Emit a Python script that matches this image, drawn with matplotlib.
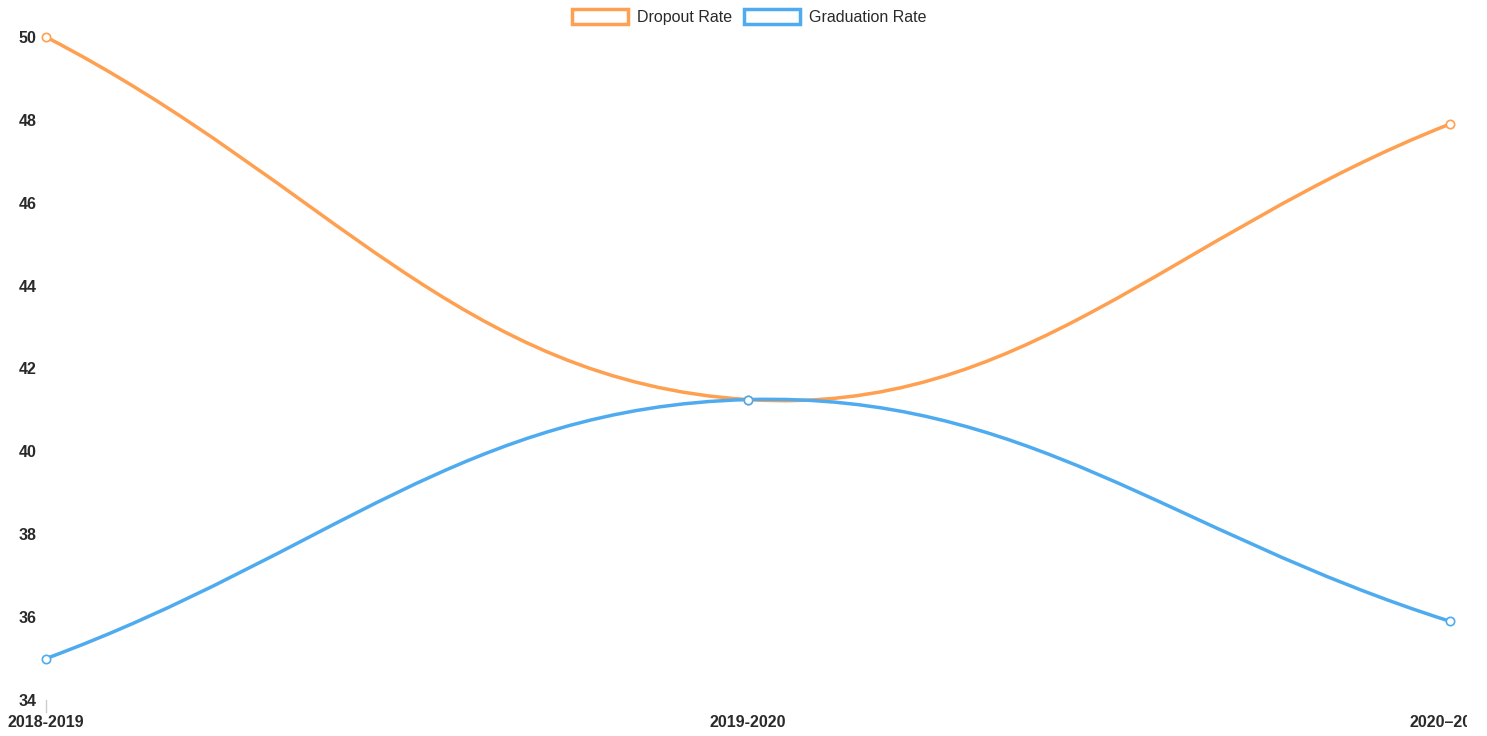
import numpy as np
import matplotlib
matplotlib.use("Agg")
import matplotlib.pyplot as plt
from matplotlib.path import Path
from matplotlib.patches import PathPatch, Patch
from matplotlib.transforms import Bbox, TransformedBbox, IdentityTransform

plt.rcParams['font.family'] = ['Liberation Sans', 'DejaVu Sans']

years = ['2018-2019', '2019-2020', '2020\u20132021']
dropout = [50, 41.25, 47.9]
graduation = [35, 41.25, 35.9]

ORANGE = '#ff9f50'
BLUE = '#4fabef'


def spline_path(ax, xs, ys, t=0.4):
    # chart.js style bezier (tension 0.4), control points worked out in pixels
    pts = ax.transData.transform(np.column_stack([xs, ys]))
    n = len(pts)
    cp_in, cp_out = [], []
    for i in range(n):
        p = pts[i]
        a = pts[i - 1] if i > 0 else p
        b = pts[i + 1] if i < n - 1 else p
        d01 = np.hypot(*(p - a))
        d12 = np.hypot(*(b - p))
        s01 = d01 / (d01 + d12)
        s12 = d12 / (d01 + d12)
        cp_in.append(p - t * s01 * (b - a))
        cp_out.append(p + t * s12 * (b - a))
    verts = [pts[0]]
    codes = [Path.MOVETO]
    for i in range(n - 1):
        verts += [cp_out[i], cp_in[i + 1], pts[i + 1]]
        codes += [Path.CURVE4] * 3
    verts = ax.transData.inverted().transform(np.array(verts))
    return Path(verts, codes)


fig = plt.figure(figsize=(14.87, 7.36), dpi=100)
W, H = 1487, 736
ax = fig.add_axes([46 / W, 36 / H, (1450 - 46) / W, (699 - 36) / H])
ax.set_xlim(0, 2)
ax.set_ylim(34, 50)

x = np.arange(len(years))
for vals, col in [(dropout, ORANGE), (graduation, BLUE)]:
    path = spline_path(ax, x, vals)
    ax.add_patch(PathPatch(path, facecolor='none', edgecolor=col, lw=2.5,
                           capstyle='round', joinstyle='round', clip_on=False))
    ax.plot(x, vals, 'o', ms=6, mfc='white', mec=col, mew=1.2, clip_on=False,
            zorder=5)

for s in ax.spines.values():
    s.set_visible(False)
ax.set_yticks(np.arange(34, 51, 2))
ax.set_xticks(x)
ax.set_xticklabels(years)
ax.tick_params(axis='y', length=0, pad=7, labelsize=11.5, labelcolor='#2a2a2a')
ax.tick_params(axis='x', length=0, pad=11, labelsize=11.5, labelcolor='#2a2a2a')
for lab in ax.get_xticklabels() + ax.get_yticklabels():
    lab.set_fontweight('bold')

# first tick mark at the left edge
ax.plot([0, 0], [34, 33.7], color='#cccccc', lw=1, clip_on=False)

# right label is cut off in the original
last = ax.get_xticklabels()[-1]
last.set_clip_box(TransformedBbox(Bbox([[0, 0], [1467, H]]), IdentityTransform()))
last.set_clip_on(True)

handles = [Patch(facecolor='white', edgecolor=ORANGE, lw=2.5, label='Dropout Rate'),
           Patch(facecolor='white', edgecolor=BLUE, lw=2.5, label='Graduation Rate')]
leg = fig.legend(handles=handles, loc='upper center',
                 bbox_to_anchor=(0.5 + 6 / W, 1.0 + 2 / H), ncol=2,
                 frameon=False, handlelength=3.5, handleheight=1.05,
                 handletextpad=0.56, columnspacing=0.75, borderaxespad=0.3,
                 prop={'family': ['Liberation Sans'], 'size': 11.5})
for t in leg.get_texts():
    t.set_color('#2a2a2a')

fig.savefig('out.png', dpi=100)
